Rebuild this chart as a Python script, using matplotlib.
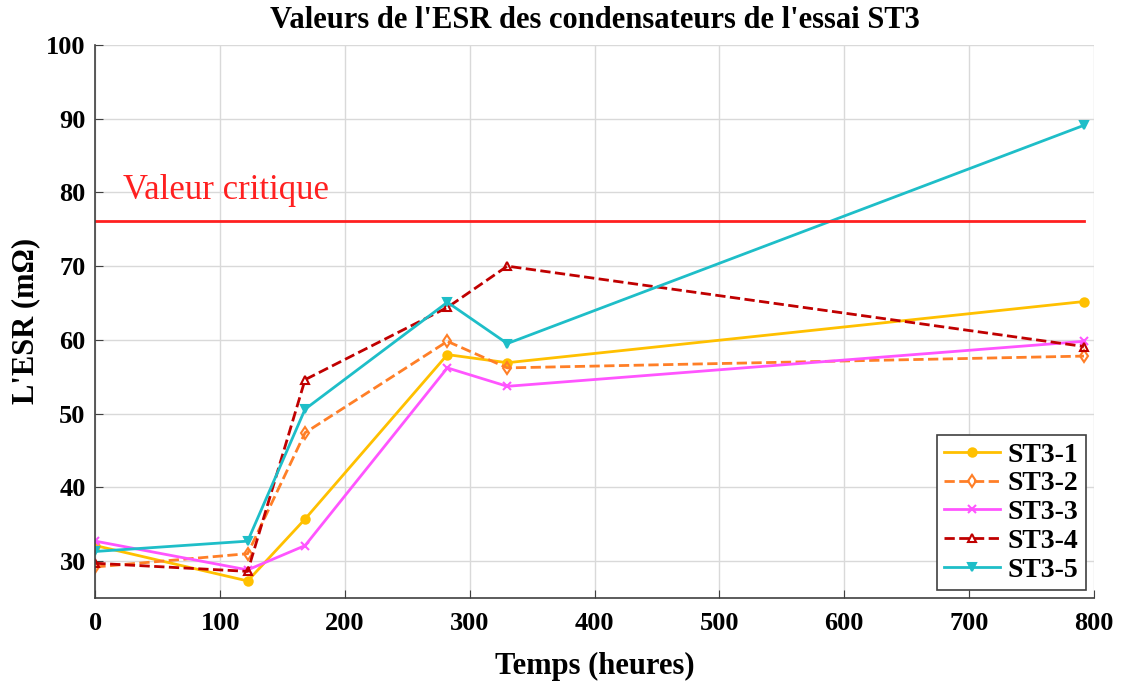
import matplotlib
matplotlib.use('Agg')
import matplotlib.pyplot as plt

plt.rcParams['font.family'] = ['Liberation Serif', 'DejaVu Serif']

# temps de mesure (heures)
temps = [0, 122, 168, 282, 330, 792]

esr_st3_1 = [32.1, 27.3, 35.7, 58.0, 56.9, 65.2]
esr_st3_2 = [29.2, 31.0, 47.4, 59.8, 56.2, 57.8]
esr_st3_3 = [32.7, 28.8, 32.1, 56.2, 53.7, 59.8]
esr_st3_4 = [29.7, 28.6, 54.6, 64.4, 70.0, 59.1]
esr_st3_5 = [31.3, 32.7, 50.6, 65.1, 59.5, 89.1]

valeur_critique = 76.1

series = [
    ('ST3-1', esr_st3_1, '#FFC000', '-', 'o', '#FFC000'),
    ('ST3-2', esr_st3_2, '#FF7F27', '--', 'd', 'none'),
    ('ST3-3', esr_st3_3, '#FF55FF', '-', 'x', '#FF55FF'),
    ('ST3-4', esr_st3_4, '#C00000', '--', '^', 'none'),
    ('ST3-5', esr_st3_5, '#1EBEC8', '-', 'v', '#1EBEC8'),
]

fig, ax = plt.subplots(figsize=(11.22, 6.81), dpi=100)
fig.subplots_adjust(left=0.085, right=0.975, top=0.934, bottom=0.122)

for nom, valeurs, couleur, style, marq, remp in series:
    ax.plot(temps, valeurs, color=couleur, linestyle=style, linewidth=2,
            marker=marq, markersize=6, markerfacecolor=remp,
            markeredgecolor=couleur, markeredgewidth=1.5, label=nom)

ax.plot([temps[0], temps[-1]], [valeur_critique, valeur_critique],
        color='#FF2020', linewidth=2)
ax.text(22, 80.3, 'Valeur critique', color='#FF2020', fontsize=25,
        va='center', ha='left')

ax.set_xlim(0, 800)
ax.set_ylim(25, 100)
ax.set_xticks(range(0, 801, 100))
ax.set_yticks(range(30, 101, 10))
ax.grid(True, color='#d9d9d9', linewidth=1)
ax.set_axisbelow(True)

for s in ['top', 'right']:
    ax.spines[s].set_visible(False)
for s in ['left', 'bottom']:
    ax.spines[s].set_color('#404040')
    ax.spines[s].set_linewidth(1.2)

ax.tick_params(direction='in', length=6, color='#404040', labelsize=19, pad=7)
ax.tick_params(axis='x', pad=10)
for lab in ax.get_xticklabels() + ax.get_yticklabels():
    lab.set_fontweight('bold')

ax.set_title("Valeurs de l'ESR des condensateurs de l'essai ST3",
             fontsize=22, fontweight='bold', pad=12)
ax.set_xlabel('Temps (heures)', fontsize=22, fontweight='bold', labelpad=12)
ax.set_ylabel("L'ESR (m\u03a9)", fontsize=22, fontweight='bold', labelpad=4)

leg = ax.legend(loc='lower right', prop={'weight': 'bold', 'size': 20},
                fancybox=False, framealpha=1, edgecolor='#404040',
                handlelength=2.0, borderpad=0.25, labelspacing=0.12,
                handletextpad=0.3, borderaxespad=0.3,
                bbox_to_anchor=(1.0, 0.0))
leg.get_frame().set_linewidth(1.2)

plt.savefig('out.png', dpi=100)
